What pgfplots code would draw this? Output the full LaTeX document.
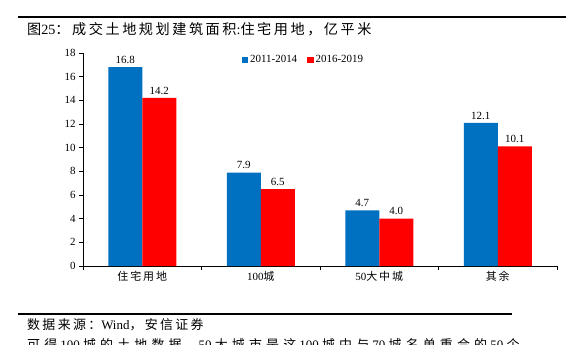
\documentclass[border=0pt]{standalone}
\usepackage{fontspec}
\setmainfont{Liberation Serif}
\newfontfamily\cjk{Noto Sans CJK SC}
\newfontfamily\cjkt[LetterSpace=18]{Noto Sans CJK SC}
\newfontfamily\cjkw[LetterSpace=32]{Noto Sans CJK SC}
\usepackage{pgfplots}
\pgfplotsset{compat=1.18}
\definecolor{cblue}{RGB}{0,112,192}
\definecolor{cred}{RGB}{255,0,0}
\begin{document}
\begin{tikzpicture}[x=1bp,y=1bp]
\useasboundingbox (0,0) rectangle (578,344);
\fill[white] (0,0) rectangle (578,344);
\draw[line width=1.2bp] (18,327) -- (566,327);
\node[anchor=west, inner sep=0] at (27,315) {\fontsize{14.2}{16}\selectfont {\cjkt 图}25{\cjkt ：成交土地规划建筑面积}:{\cjkt 住宅用地，亿平米}};
\draw[line width=1.2bp] (18,30) -- (512,30);
\node[anchor=west, inner sep=0] at (27,19) {\fontsize{13}{15}\selectfont {\cjkt 数据来源：}Wind{\cjkt ，安信证券}};
\node[anchor=north west, inner sep=0] at (27,6) {\fontsize{13}{15}\selectfont {\cjkw 可得} 100 {\cjkw 城的土地数据，}50 {\cjkw 大城市是这} 100 {\cjkw 城中与} 70 {\cjkw 城名单重合的} 50 {\cjkw 个}};
\begin{axis}[
  at={(83bp,78bp)}, anchor=south west,
  scale only axis, width=474bp, height=213bp,
  ymin=0, ymax=18, ytick={0,2,...,18},
  xmin=-0.5, xmax=3.5,
  xtick={-0.5,0.5,1.5,2.5,3.5}, xticklabels={},
  extra x ticks={0,1,2,3},
  extra x tick labels={{\cjkt 住宅用地},{100\cjk 城},{50\cjkt 大中城},{\cjkt 其余}},
  extra x tick style={major tick length=0pt},
  axis x line=bottom, axis y line=left,
  axis line style={-, black, line width=0.8bp},
  tick align=outside, major tick length=4bp,
  tick style={black, line width=0.8bp},
  ticklabel style={font=\fontsize{11}{12}\selectfont},
  xticklabel style={yshift=-2bp},
  /pgf/number format/assume math mode=true,
  ybar=0pt, bar width=34bp,
  nodes near coords,
  nodes near coords style={font=\fontsize{11}{12}\selectfont, /pgf/number format/.cd, fixed, fixed zerofill, precision=1, assume math mode=true},
  legend columns=2,
  legend style={at={(0.465,0.967)}, anchor=center, draw=none, fill=none, font=\fontsize{11}{12}\selectfont, /tikz/every even column/.append style={column sep=8bp}},
  legend image code/.code={\fill[#1] (0bp,-3.2bp) rectangle (6.4bp,3.2bp);},
]
\addplot[fill=cblue, draw=none] coordinates {(0,16.8) (1,7.9) (2,4.7) (3,12.1)};
\addlegendentry{2011-2014}
\addplot[fill=cred, draw=none] coordinates {(0,14.2) (1,6.5) (2,4.0) (3,10.1)};
\addlegendentry{2016-2019}
\end{axis}
\end{tikzpicture}
\end{document}
